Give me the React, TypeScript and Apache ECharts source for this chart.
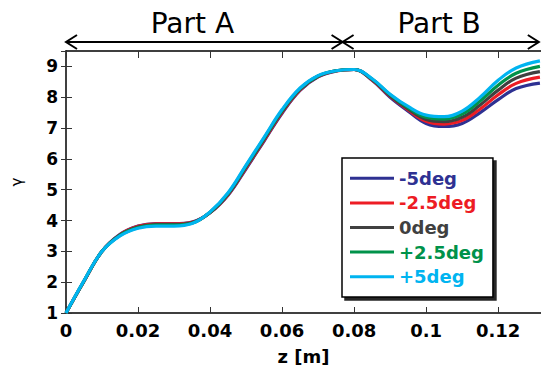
import React, { useEffect, useRef } from "react";
import * as echarts from "echarts";

// ---- data ----
const zValues = [0, 0.005, 0.01, 0.015, 0.02, 0.025, 0.03, 0.035, 0.04, 0.045, 0.05, 0.055, 0.06, 0.065, 0.07, 0.075, 0.08, 0.085, 0.09, 0.095, 0.1, 0.105, 0.11, 0.115, 0.12, 0.125, 0.1316];

const seriesNames = ["-5deg", "-2.5deg", "0deg", "+2.5deg", "+5deg"];
const seriesColors = ["#2E3192", "#ED1C24", "#404040", "#00924A", "#00B4F0"];

const gammaM5 = [1.0, 2.03, 3.0, 3.55, 3.82, 3.9, 3.9, 3.95, 4.25, 4.82, 5.68, 6.58, 7.48, 8.22, 8.66, 8.85, 8.9, 8.55, 8.0, 7.55, 7.15, 7.05, 7.15, 7.5, 7.92, 8.28, 8.46];
const gammaM25 = [1.0, 2.03, 3.0, 3.54, 3.81, 3.89, 3.89, 3.94, 4.26, 4.84, 5.71, 6.61, 7.51, 8.24, 8.67, 8.85, 8.9, 8.56, 8.03, 7.59, 7.22, 7.13, 7.25, 7.62, 8.08, 8.45, 8.65];
const gamma0 = [1.0, 2.04, 3.0, 3.53, 3.79, 3.87, 3.87, 3.93, 4.26, 4.86, 5.74, 6.64, 7.54, 8.26, 8.68, 8.86, 8.9, 8.58, 8.05, 7.62, 7.28, 7.21, 7.35, 7.75, 8.23, 8.62, 8.83];
const gammaP25 = [1.0, 2.04, 3.0, 3.52, 3.77, 3.85, 3.85, 3.91, 4.27, 4.88, 5.77, 6.67, 7.57, 8.28, 8.69, 8.86, 8.9, 8.59, 8.08, 7.66, 7.35, 7.29, 7.45, 7.88, 8.39, 8.78, 9.0];
const gammaP5 = [1.0, 2.05, 3.0, 3.5, 3.75, 3.82, 3.82, 3.9, 4.28, 4.9, 5.8, 6.7, 7.6, 8.3, 8.7, 8.86, 8.9, 8.6, 8.1, 7.7, 7.42, 7.37, 7.55, 8.0, 8.55, 8.95, 9.18];
const allGamma = [gammaM5, gammaM25, gamma0, gammaP25, gammaP5];

const partNames = ["Part A", "Part B"];
const partStart = [0, 0.0768];
const partEnd = [0.0768, 0.1313];
const partLabelZ = [0.0351, 0.1036];

const FONT = "DejaVu Sans";

export default function App() {
  const ref = useRef<HTMLDivElement>(null);

  useEffect(() => {
    document.body.style.margin = "0";
    if (!ref.current) return;
    const chart = echarts.init(ref.current, null, { renderer: "svg" });

    const xCommon = {
      type: "value",
      min: 0,
      max: 0.1319,
      interval: 0.02,
      splitLine: { show: false },
    };
    const yCommon = {
      type: "value",
      min: 1,
      max: 9.5,
      interval: 1,
      splitLine: { show: false },
    };

    const option: any = {
      animation: false,
      backgroundColor: "#fff",
      textStyle: { fontFamily: FONT },
      grid: { left: 66, top: 51, right: 0, bottom: 58 },
      xAxis: [
        {
          ...xCommon,
          position: "bottom",
          name: "z [m]",
          nameLocation: "middle",
          nameGap: 34,
          nameTextStyle: { fontSize: 18, fontWeight: "bold", color: "#000", fontFamily: FONT },
          axisLine: { lineStyle: { color: "#000", width: 1.5 } },
          axisTick: { inside: true, length: 6, lineStyle: { color: "#333", width: 1 } },
          axisLabel: { fontSize: 18, fontWeight: "bold", color: "#000", margin: 8, fontFamily: FONT, showMaxLabel: false },
        },
        {
          ...xCommon,
          position: "top",
          axisLine: { lineStyle: { color: "#000", width: 1.5 } },
          axisTick: { inside: true, length: 7, lineStyle: { color: "#333", width: 1 } },
          axisLabel: { show: false },
        },
      ],
      yAxis: [
        {
          ...yCommon,
          position: "left",
          name: "γ",
          nameLocation: "middle",
          nameGap: 42,
          nameTextStyle: { fontSize: 15, color: "#000", fontFamily: FONT },
          axisLine: { lineStyle: { color: "#000", width: 1.5 } },
          axisTick: { inside: true, length: 6, lineStyle: { color: "#333", width: 1 } },
          axisLabel: { fontSize: 17, fontWeight: "bold", color: "#000", margin: 8, fontFamily: FONT, showMaxLabel: false },
        },
        {
          ...yCommon,
          position: "right",
          axisLine: { show: false },
          axisTick: { show: true, inside: true, length: 5, lineStyle: { color: "#333", width: 1 } },
          axisLabel: { show: false },
        },
      ],
      legend: {
        orient: "vertical",
        left: 342,
        top: 158,
        padding: [8, 9, 8, 8],
        icon: "rect",
        itemWidth: 44,
        itemHeight: 3,
        itemGap: 0,
        backgroundColor: "#fff",
        borderColor: "#000",
        borderWidth: 1.5,
        shadowColor: "rgba(0,0,0,0.85)",
        shadowOffsetX: 3,
        shadowOffsetY: 3,
        shadowBlur: 1,
        selectedMode: false,
        textStyle: { fontSize: 18, fontWeight: "bold", fontFamily: FONT, lineHeight: 24.6 },
        data: seriesNames.map((n, i) => ({ name: n, textStyle: { color: seriesColors[i] } })),
      },
      series: seriesNames.map((n, i) => ({
        name: n,
        type: "line",
        xAxisIndex: 0,
        yAxisIndex: 0,
        smooth: 0.4,
        symbol: "none",
        lineStyle: { width: 3.2, color: seriesColors[i] },
        itemStyle: { color: seriesColors[i] },
        data: zValues.map((z, k) => [z, allGamma[i][k]]),
      })),
    };

    chart.setOption(option);

    const yArrow = 42;
    const graphics: any[] = [];
    partNames.forEach((name, i) => {
      const x1 = chart.convertToPixel({ xAxisIndex: 0 }, partStart[i]) as number;
      const x2 = chart.convertToPixel({ xAxisIndex: 0 }, partEnd[i]) as number;
      const xl = chart.convertToPixel({ xAxisIndex: 0 }, partLabelZ[i]) as number;
      const st = { stroke: "#000", lineWidth: 2, fill: null };
      graphics.push({ type: "line", shape: { x1, y1: yArrow, x2, y2: yArrow }, style: st, z: 10 });
      graphics.push({ type: "polyline", shape: { points: [[x1 + 11, yArrow - 7], [x1, yArrow], [x1 + 11, yArrow + 7]] }, style: st, z: 10 });
      graphics.push({ type: "polyline", shape: { points: [[x2 - 11, yArrow - 7], [x2, yArrow], [x2 - 11, yArrow + 7]] }, style: st, z: 10 });
      graphics.push({
        type: "text",
        x: xl,
        y: 23,
        z: 10,
        style: { text: name, fontSize: 28, fontFamily: FONT, fill: "#000", align: "center", verticalAlign: "middle" },
      });
    });
    chart.setOption({ graphic: graphics });

    return () => chart.dispose();
  }, []);

  return <div ref={ref} style={{ position: "absolute", left: 0, top: 0, width: 541, height: 371 }} />;
}
